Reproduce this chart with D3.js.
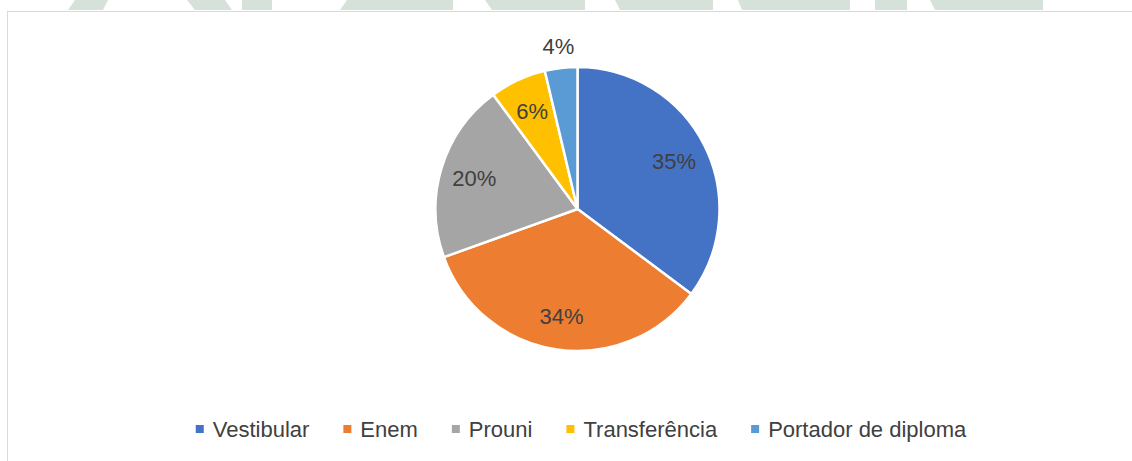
<!DOCTYPE html>
<html>
<head>
<meta charset="utf-8">
<title>Forma de ingresso</title>
<script src="https://cdn.jsdelivr.net/npm/d3@7"></script>
<style>
  body { margin: 0; background: #fff; font-family: "Liberation Sans", Arial, sans-serif; }
  svg { display: block; }
</style>
</head>
<body>
<div id="chart"></div>
<script>
// data
var categories = ["Vestibular", "Enem", "Prouni", "Transferência", "Portador de diploma"];
var values = [35.2, 34.3, 20.4, 6.4, 3.7];
var colors = ["#4472c4", "#ed7d31", "#a5a5a5", "#ffc000", "#5b9bd5"];

// watermark pieces peeking over the frame (background decoration)
var watermark = [
  [[75,0],[108,0],[103,10],[68,10]],
  [[187,0],[225,0],[232,10],[195,10]],
  [[242,0],[272,0],[272,10],[242,10]],
  [[347,0],[453,0],[453,10],[340,10]],
  [[485,0],[585,0],[585,10],[492,10]],
  [[615,0],[713,0],[713,10],[620,10]],
  [[738,0],[850,0],[850,10],[742,10]],
  [[875,0],[907,0],[907,10],[875,10]],
  [[930,0],[1043,0],[1043,10],[935,10]]
];

var W = 1132, H = 461;
var svg = d3.select("#chart").append("svg").attr("width", W).attr("height", H);

svg.selectAll("polygon.wm").data(watermark).enter().append("polygon")
  .attr("class", "wm")
  .attr("points", function(d) { return d.map(function(p) { return p.join(","); }).join(" "); })
  .attr("fill", "#d6e1d9");

// chart frame
svg.append("rect")
  .attr("x", 7.5).attr("y", 11.5)
  .attr("width", 1300).attr("height", 600)
  .attr("fill", "#fff").attr("stroke", "#d9d9d9").attr("stroke-width", 1);

var cx = 577.5, cy = 209, r = 142;
var g = svg.append("g").attr("transform", "translate(" + cx + "," + cy + ")");

var pie = d3.pie().sort(null).value(function(d) { return d; });
var arcs = pie(values);
var arc = d3.arc().innerRadius(0).outerRadius(r);
var labelArc = d3.arc().innerRadius(r * 0.76).outerRadius(r * 0.76);
var outArc = d3.arc().innerRadius(r + 22).outerRadius(r + 22);

g.selectAll("path").data(arcs).enter().append("path")
  .attr("d", arc)
  .attr("fill", function(d, i) { return colors[i]; })
  .attr("stroke", "#fff").attr("stroke-width", 2.5)
  .attr("stroke-linejoin", "round");

var total = d3.sum(values);
g.selectAll("text.lbl").data(arcs).enter().append("text")
  .attr("class", "lbl")
  .attr("transform", function(d) {
    var c = (d.data < 5 ? outArc : labelArc).centroid(d);
    return "translate(" + c[0] + "," + c[1] + ")";
  })
  .attr("text-anchor", "middle")
  .attr("dy", "0.36em")
  .attr("font-size", 22)
  .attr("fill", "#404040")
  .text(function(d) { return Math.round(d.data / total * 100) + "%"; });

// legend
var legend = svg.append("g").attr("transform", "translate(0,429)");
var items = legend.selectAll("g").data(categories).enter().append("g");
items.append("rect")
  .attr("y", -4).attr("width", 8).attr("height", 8)
  .attr("fill", function(d, i) { return colors[i]; });
items.append("text")
  .attr("x", 17).attr("dy", "0.36em")
  .attr("font-size", 22).attr("fill", "#404040")
  .text(function(d) { return d; });

var x = 0, pos = [];
items.each(function() {
  var w = d3.select(this).select("text").node().getComputedTextLength();
  pos.push(x);
  x += 17 + w + 34;
});
var totalW = x - 34;
var start = 581 - totalW / 2;
items.attr("transform", function(d, i) { return "translate(" + (start + pos[i]) + ",0)"; });
</script>
</body>
</html>
